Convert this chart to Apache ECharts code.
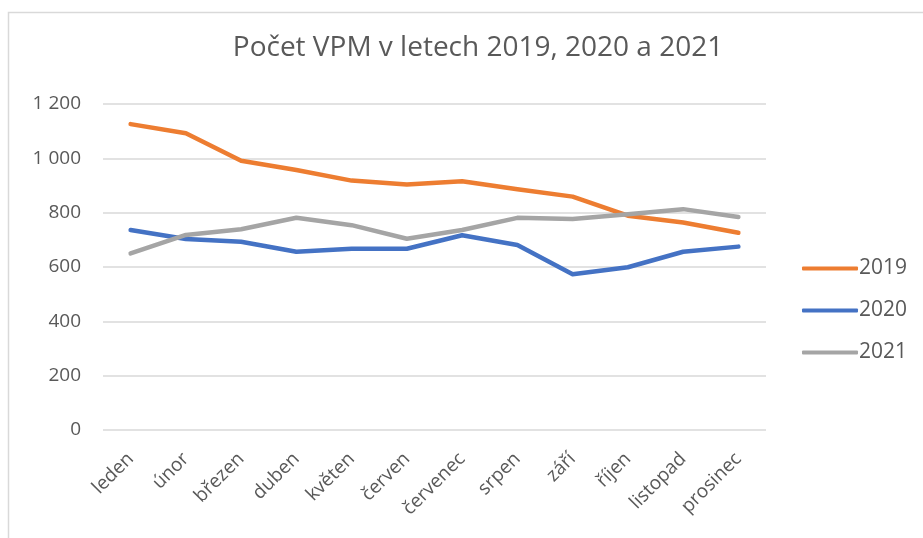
<!DOCTYPE html>
<html><head><meta charset="utf-8">
<script src="https://cdn.jsdelivr.net/npm/echarts@6/dist/echarts.min.js"></script>
<style>html,body{margin:0;padding:0;background:#fff}#c{width:923px;height:538px}</style>
</head><body><div id="c"></div>
<script>
const categories = ['leden','únor','březen','duben','květen','červen','červenec','srpen','září','říjen','listopad','prosinec'];
const s2019 = [1126, 1092, 991, 957, 918, 904, 916, 886, 859, 789, 764, 726];
const s2020 = [736, 703, 693, 656, 667, 667, 717, 681, 573, 599, 656, 675];
const s2021 = [650, 718, 739, 781, 754, 704, 736, 781, 777, 794, 813, 784];
const yTicks = [0, 200, 400, 600, 800, 1000, 1200];
const titleText = 'Počet VPM v letech 2019, 2020 a 2021';

const font = 'Open Sans';
const txt = '#595959';
const chart = echarts.init(document.getElementById('c'), null, {renderer:'canvas'});
const mk = (name, data, color) => ({
  name, type:'line', data, symbol:'none', smooth:false,
  lineStyle:{color, width:4.5, cap:'round', join:'round'}, itemStyle:{color}
});
chart.setOption({
  animation:false,
  title:{text:titleText, left:473, top:29, textAlign:'center',
    textStyle:{fontFamily:font, fontSize:28, fontWeight:'normal', color:txt}},
  graphic:[{type:'rect', shape:{x:8.5, y:12.5, width:1000, height:1000},
    style:{fill:'none', stroke:'#d9d9d9', lineWidth:1.5}, silent:true, z:-1}],
  legend:{orient:'vertical', left:797, top:253, itemGap:21, itemWidth:56, itemHeight:4,
    icon:'roundRect',
    textStyle:{fontFamily:font, fontSize:21, color:txt, padding:[0,0,0,-4]},
    data:['2019','2020','2021']},
  grid:{left:103, right:923-766, top:104, bottom:538-430},
  xAxis:{type:'category', data:categories, boundaryGap:true,
    axisLine:{show:false}, axisTick:{show:false},
    axisLabel:{rotate:45, fontFamily:font, fontSize:19, color:txt, margin:26, interval:0}},
  yAxis:{type:'value', min:yTicks[0], max:yTicks[yTicks.length-1], interval:200,
    axisLine:{show:false}, axisTick:{show:false},
    splitLine:{lineStyle:{color:'#d9d9d9', width:1.5}},
    axisLabel:{fontFamily:font, fontSize:19, color:txt, margin:22,
      formatter:v => String(v).replace(/\B(?=(\d{3})+(?!\d))/g,' ')}},
  series:[mk('2019', s2019, '#ED7D31'), mk('2020', s2020, '#4472C4'), mk('2021', s2021, '#A5A5A5')]
});
</script></body></html>
